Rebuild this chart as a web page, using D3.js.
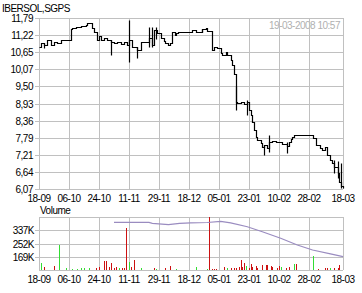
<!DOCTYPE html>
<html>
<head>
<meta charset="utf-8">
<script src="https://cdn.jsdelivr.net/npm/d3@7"></script>
<style>
  body { margin: 0; background: #fff; }
  text { font-family: "Liberation Sans", Arial, sans-serif; font-size: 10px; letter-spacing: -0.5px; fill: #000; }
</style>
</head>
<body>
<svg id="chart" width="362" height="293"></svg>
<script>
var title = "IBERSOL,SGPS";
var stamp = "19-03-2008 10:57";

// x axis: grid dates and their labels
var tickDates = ["2007-09-18", "2007-10-06", "2007-10-24", "2007-11-11", "2007-11-29", "2007-12-18",
  "2008-01-05", "2008-01-23", "2008-02-10", "2008-02-28", "2008-03-18"];
var tickLabels = ["18-09", "06-10", "24-10", "11-11", "29-11", "18-12", "05-01", "23-01", "10-02", "28-02", "18-03"];

// price axis
var priceTicks = [11.79, 11.22, 10.65, 10.07, 9.50, 8.93, 8.36, 7.79, 7.21, 6.64, 6.07];
var priceLabels = ["11,79", "11,22", "10,65", "10,07", "9,50", "8,93", "8,36", "7,79", "7,21", "6,64", "6,07"];

// closing price, drawn as a step line
var priceDates = ["2007-09-18", "2007-09-19", "2007-09-21", "2007-09-23", "2007-09-25", "2007-09-27", "2007-09-29",
  "2007-10-01", "2007-10-07", "2007-10-08", "2007-10-10", "2007-10-13", "2007-10-16", "2007-10-17", "2007-10-20",
  "2007-10-21", "2007-10-23", "2007-10-24", "2007-10-25", "2007-10-27", "2007-10-29", "2007-10-31", "2007-11-02",
  "2007-11-04", "2007-11-06", "2007-11-08", "2007-11-10", "2007-11-11", "2007-11-13", "2007-11-16", "2007-11-18",
  "2007-11-23", "2007-11-25", "2007-11-26", "2007-11-28", "2007-11-30", "2007-12-02", "2007-12-03", "2007-12-05",
  "2007-12-06", "2007-12-07", "2007-12-09", "2007-12-10", "2007-12-11", "2007-12-20", "2007-12-22", "2007-12-23",
  "2007-12-26", "2007-12-28", "2007-12-29", "2008-01-01", "2008-01-02", "2008-01-04", "2008-01-06", "2008-01-07",
  "2008-01-09", "2008-01-10", "2008-01-12", "2008-01-13", "2008-01-14", "2008-01-15", "2008-01-16", "2008-01-18",
  "2008-01-20", "2008-01-22", "2008-01-23", "2008-01-24", "2008-01-25", "2008-01-26", "2008-01-27", "2008-01-28",
  "2008-01-30", "2008-01-31", "2008-02-01", "2008-02-03", "2008-02-04", "2008-02-06", "2008-02-08", "2008-02-11",
  "2008-02-12", "2008-02-15", "2008-02-16", "2008-02-17", "2008-02-18", "2008-02-19", "2008-03-01", "2008-03-03",
  "2008-03-05", "2008-03-06", "2008-03-08", "2008-03-09", "2008-03-11", "2008-03-12", "2008-03-13", "2008-03-15",
  "2008-03-16", "2008-03-17", "2008-03-18"];
var priceValues = [10.83, 10.96, 10.89, 11.05, 10.89, 11.00, 10.94,
  11.05, 11.41, 11.47, 11.50, 11.53, 11.56, 11.61, 11.46,
  11.33, 11.05, 11.19, 11.05, 11.12, 11.05, 10.99, 10.94,
  11.00, 10.92, 10.99, 10.89, 11.05, 10.83, 10.72, 11.00,
  11.12, 10.89, 11.39, 11.28, 11.12, 11.02, 10.95, 10.89,
  10.96, 11.33, 11.22, 11.29, 11.31, 11.39, 11.33, 11.32,
  11.42, 11.46, 11.37, 10.72, 10.83, 10.79, 10.61, 10.55,
  10.65, 10.55, 10.39, 10.22, 9.92, 8.98, 8.95, 8.99,
  8.91, 8.98, 8.71, 8.55, 8.31, 8.04, 7.81, 7.71,
  7.61, 7.49, 7.54, 7.44, 7.64, 7.68, 7.64, 7.65,
  7.59, 7.51, 7.65, 7.74, 7.82, 7.88, 7.78, 7.54,
  7.44, 7.37, 7.47, 7.21, 7.04, 6.94, 6.80, 6.60,
  6.30, 6.17, 6.10];

// days with a visible high-low range
var spikeDates = ["2007-09-21", "2007-10-31", "2007-11-11", "2007-11-16", "2007-11-23", "2007-11-25", "2007-11-27",
  "2007-12-26", "2008-01-15", "2008-01-22", "2008-02-01", "2008-02-04", "2008-02-15", "2008-03-13", "2008-03-15",
  "2008-03-17"];
var spikeHigh = [10.96, 11.05, 11.72, 10.83, 11.50, 11.50, 11.50, 11.42, 9.52, 9.05, 7.54, 7.88, 7.65, 7.04, 7.00, 6.94];
var spikeLow = [10.78, 10.55, 10.33, 10.44, 10.83, 10.83, 11.10, 11.31, 8.71, 8.55, 7.21, 7.32, 7.27, 6.60, 6.44, 6.10];

// volume in thousands, 1 = up day (green), 0 = down day (red)
var volumeDates = ["2007-09-19", "2007-09-21", "2007-09-27", "2007-09-30", "2007-10-04", "2007-10-08", "2007-10-11",
  "2007-10-13", "2007-10-15", "2007-10-18", "2007-10-22", "2007-10-24", "2007-10-27", "2007-10-28", "2007-10-30",
  "2007-10-31", "2007-11-02", "2007-11-03", "2007-11-05", "2007-11-07", "2007-11-08", "2007-11-09", "2007-11-11",
  "2007-11-12", "2007-11-14", "2007-11-18", "2007-11-26", "2007-11-27", "2007-12-03", "2007-12-06", "2007-12-10",
  "2007-12-22", "2007-12-29", "2007-12-30", "2008-01-01", "2008-01-02", "2008-01-03", "2008-01-08", "2008-01-10",
  "2008-01-12", "2008-01-14", "2008-01-15", "2008-01-17", "2008-01-18", "2008-01-19", "2008-01-20", "2008-01-21",
  "2008-01-23", "2008-01-24", "2008-01-25", "2008-01-27", "2008-01-28", "2008-01-31", "2008-02-02", "2008-02-03",
  "2008-02-05", "2008-02-06", "2008-02-09", "2008-02-10", "2008-02-11", "2008-02-14", "2008-02-16", "2008-02-19",
  "2008-02-20", "2008-03-01", "2008-03-04", "2008-03-08", "2008-03-09", "2008-03-11", "2008-03-13", "2008-03-15",
  "2008-03-16"];
var volumeValues = [46, 17, 23, 161, 15, 8, 8,
  11, 15, 15, 15, 21, 57, 57, 21,
  43, 11, 21, 11, 11, 11, 269, 49,
  19, 64, 15, 15, 8, 15, 25, 8,
  21, 8, 520, 8, 8, 8, 21, 11,
  11, 11, 15, 21, 64, 21, 43, 27,
  15, 36, 21, 25, 15, 32, 32, 32,
  25, 21, 11, 25, 21, 11, 21, 36,
  36, 91, 8, 15, 15, 15, 15, 11,
  32];
var volumeUp = [1, 0, 0, 1, 1, 1, 1,
  1, 1, 1, 0, 0, 0, 0, 0,
  0, 0, 0, 1, 0, 0, 0, 1,
  0, 0, 1, 0, 1, 0, 0, 1,
  1, 1, 0, 0, 0, 0, 0, 1,
  0, 0, 0, 0, 0, 0, 0, 1,
  0, 0, 0, 0, 0, 0, 0, 0,
  0, 0, 0, 0, 1, 0, 0, 1,
  0, 1, 0, 0, 0, 1, 0, 0,
  0];
var volumeTicks = [337, 252, 169];

// volume moving average (thousands)
var avgDates = ["2007-11-02", "2007-11-23", "2007-11-25", "2007-12-05", "2007-12-12", "2007-12-19", "2007-12-29",
  "2008-01-06", "2008-01-12", "2008-01-22", "2008-01-31", "2008-02-11", "2008-02-21", "2008-03-01", "2008-03-11",
  "2008-03-18"];
var avgValues = [303, 303, 297, 289, 297, 300, 302, 309, 300, 275, 243, 202, 159, 127, 102, 85];

var parse = d3.timeParse("%Y-%m-%d");
var svg = d3.select("#chart");

var left = 39, right = 343;
var priceTop = 18, priceBottom = 189;
var volTop = 217, volBottom = 270;
var gridColor = "#c0c0c0";

//grid columns are evenly spaced, last one sits on the right border
var x = d3.scaleTime()
  .domain(tickDates.map(parse))
  .range(tickDates.map(function (d, i) {
    return i < tickDates.length - 1 ? left + 30 * i : right;
  }));

var y = d3.scaleLinear()
  .domain([priceTicks[priceTicks.length - 1], priceTicks[0]])
  .range([priceBottom, priceTop]);

var yVol = d3.scaleLinear()
  .domain([0, volumeTicks[0]])
  .range([volBottom, volTop]);

function px(v) {
  return Math.round(v) + 0.5;
}

// title and time stamp
svg.append("text")
  .attr("x", 2)
  .attr("y", 12)
  .text(title);

svg.append("text")
  .attr("x", right - 3)
  .attr("y", 29)
  .attr("text-anchor", "end")
  .style("fill", "#b0b0b0")
  .text(stamp);

// ---------- price panel ----------
var price = svg.append("g");

price.selectAll(".hgrid")
  .data(priceTicks)
  .enter()
  .append("line")
  .attr("x1", left - 4)
  .attr("x2", right)
  .attr("y1", function (d) { return px(y(d)); })
  .attr("y2", function (d) { return px(y(d)); })
  .style("stroke", gridColor);

price.selectAll(".vgrid")
  .data(tickDates)
  .enter()
  .append("line")
  .attr("x1", function (d) { return px(x(parse(d))); })
  .attr("x2", function (d) { return px(x(parse(d))); })
  .attr("y1", priceTop)
  .attr("y2", priceBottom)
  .style("stroke", gridColor);

price.selectAll(".ylab")
  .data(priceLabels)
  .enter()
  .append("text")
  .attr("x", left - 6)
  .attr("y", function (d, i) { return y(priceTicks[i]) + 4; })
  .attr("text-anchor", "end")
  .text(function (d) { return d; });

price.selectAll(".xlab")
  .data(tickLabels)
  .enter()
  .append("text")
  .attr("x", function (d, i) { return x(parse(tickDates[i])); })
  .attr("y", 202)
  .attr("text-anchor", "middle")
  .text(function (d) { return d; });

var priceData = priceDates.map(function (d, i) {
  return {date: parse(d), value: priceValues[i]};
});

var line = d3.line()
  .x(function (d) { return px(x(d.date)); })
  .y(function (d) { return px(y(d.value)); })
  .curve(d3.curveStepAfter);

price.append("path")
  .datum(priceData)
  .attr("d", line)
  .style("fill", "none")
  .style("stroke", "#000")
  .style("stroke-width", 1.2);

price.selectAll(".spike")
  .data(spikeDates)
  .enter()
  .append("line")
  .attr("x1", function (d) { return px(x(parse(d))); })
  .attr("x2", function (d) { return px(x(parse(d))); })
  .attr("y1", function (d, i) { return px(y(spikeHigh[i])); })
  .attr("y2", function (d, i) { return px(y(spikeLow[i])); })
  .style("stroke", "#000")
  .style("stroke-width", 1.2);

// ---------- volume panel ----------
var vol = svg.append("g");

vol.append("text")
  .attr("x", left + 1)
  .attr("y", 214)
  .text("Volume");

//four equal bands
var volGrid = d3.range(0, 5).map(function (i) { return volumeTicks[0] * i / 4; });

vol.selectAll(".hgrid")
  .data(volGrid)
  .enter()
  .append("line")
  .attr("x1", function (d, i) { return (i > 0 && i < 4) ? left - 4 : left; })
  .attr("x2", right)
  .attr("y1", function (d) { return px(yVol(d)); })
  .attr("y2", function (d) { return px(yVol(d)); })
  .style("stroke", gridColor);

vol.selectAll(".vgrid")
  .data(tickDates)
  .enter()
  .append("line")
  .attr("x1", function (d) { return px(x(parse(d))); })
  .attr("x2", function (d) { return px(x(parse(d))); })
  .attr("y1", volTop)
  .attr("y2", volBottom)
  .style("stroke", gridColor);

//the original draws each label one band below its value
var band = volumeTicks[0] / 4;
vol.selectAll(".ylab")
  .data(volumeTicks)
  .enter()
  .append("text")
  .attr("x", left - 5)
  .attr("y", function (d) { return yVol(d - band) + 4; })
  .attr("text-anchor", "end")
  .text(function (d) { return d + "K"; });

vol.selectAll(".xlab")
  .data(tickLabels)
  .enter()
  .append("text")
  .attr("x", function (d, i) { return x(parse(tickDates[i])); })
  .attr("y", 283)
  .attr("text-anchor", "middle")
  .text(function (d) { return d; });

vol.selectAll(".bar")
  .data(volumeDates)
  .enter()
  .append("rect")
  .attr("x", function (d) { return Math.round(x(parse(d))); })
  .attr("width", 1)
  .attr("y", function (d, i) { return Math.round(Math.max(volTop, yVol(volumeValues[i]))); })
  .attr("height", function (d, i) {
    return volBottom - Math.round(Math.max(volTop, yVol(volumeValues[i])));
  })
  .style("fill", function (d, i) { return volumeUp[i] ? "#33dd33" : "#cc1111"; });

var avgLine = d3.line()
  .x(function (d, i) { return x(parse(d)); })
  .y(function (d, i) { return yVol(avgValues[i]); });

vol.append("path")
  .datum(avgDates)
  .attr("d", avgLine)
  .style("fill", "none")
  .style("stroke", "#9a8cc0")
  .style("stroke-width", 1.2);
</script>
</body>
</html>
